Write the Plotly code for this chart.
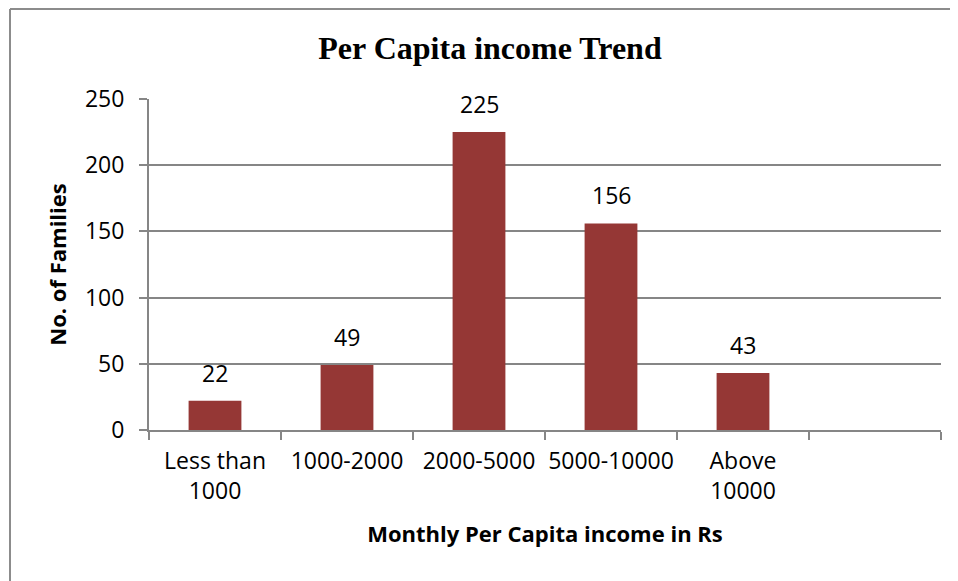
import plotly.graph_objects as go

categories = ["Less than<br>1000", "1000-2000", "2000-5000", "5000-10000", "Above<br>10000", " "]
families = [22, 49, 225, 156, 43, None]
label_values = [22, 49, 225, 156, 43]

BAR = "#953735"
GRID = "#868686"
FONT = "Open Sans, Lato, sans-serif"

# page has an 8px body margin; figure is sized/margined to compensate
W, H = 950, 573
L, R, T, B = 141, 17, 91, 151
PW, PH = W - L - R, H - T - B

fig = go.Figure()
fig.add_trace(go.Bar(
    x=categories, y=families, marker=dict(color=BAR, line=dict(width=0)),
    width=0.4, hoverinfo="x+y",
))

for c, v in zip(categories, label_values):
    fig.add_annotation(x=c, y=v, text=str(v), showarrow=False, yanchor="bottom",
                       yshift=10, font=dict(family=FONT, size=23, color="black"))

fig.update_layout(
    width=W, height=H,
    margin=dict(l=L, r=R, t=T, b=B, autoexpand=False),
    paper_bgcolor="white", plot_bgcolor="white",
    showlegend=False,
    title=dict(text="<b>Per Capita income Trend</b>", x=482/W, xref="container",
               xanchor="center", y=1-40/H, yref="container", yanchor="middle",
               font=dict(family="Liberation Serif, Times New Roman, serif", size=32, color="black")),
    font=dict(family=FONT, size=23, color="black"),
)
fig.update_xaxes(
    type="category", categoryorder="array", categoryarray=categories,
    showgrid=False, showline=True, linecolor=GRID, linewidth=2,
    ticks="outside", tickson="boundaries", ticklen=8, tickcolor=GRID, tickwidth=2,
    tickangle=0, automargin=False,
    ticklabelstandoff=9,
    tickfont=dict(family=FONT, size=23, color="black"),
    title=dict(text="<b>Monthly Per Capita income in Rs</b>", standoff=22,
               font=dict(family=FONT, size=22, color="black")),
    fixedrange=True,
)
fig.update_yaxes(
    range=[0, 250], dtick=50, showgrid=True, gridcolor=GRID, gridwidth=1.5,
    showline=True, linecolor=GRID, linewidth=2, zeroline=False,
    ticks="outside", ticklen=8, tickcolor=GRID, tickwidth=2,
    ticklabelstandoff=10, automargin=False,
    tickfont=dict(family=FONT, size=23, color="black"),
    title=dict(text="<b>No. of Families</b>", standoff=12,
               font=dict(family=FONT, size=22, color="black")),
    fixedrange=True,
)
# chart border (left and top edges visible)
bx = (2 - L) / PW
by = 1 + (T - 1) / PH
fig.add_shape(type="line", xref="paper", yref="paper", x0=bx, x1=1.05, y0=by, y1=by,
              line=dict(color="#8c8c8c", width=2))
fig.add_shape(type="line", xref="paper", yref="paper", x0=bx, x1=bx, y0=by, y1=-0.6,
              line=dict(color="#8c8c8c", width=2))

fig.write_html("out.html")
